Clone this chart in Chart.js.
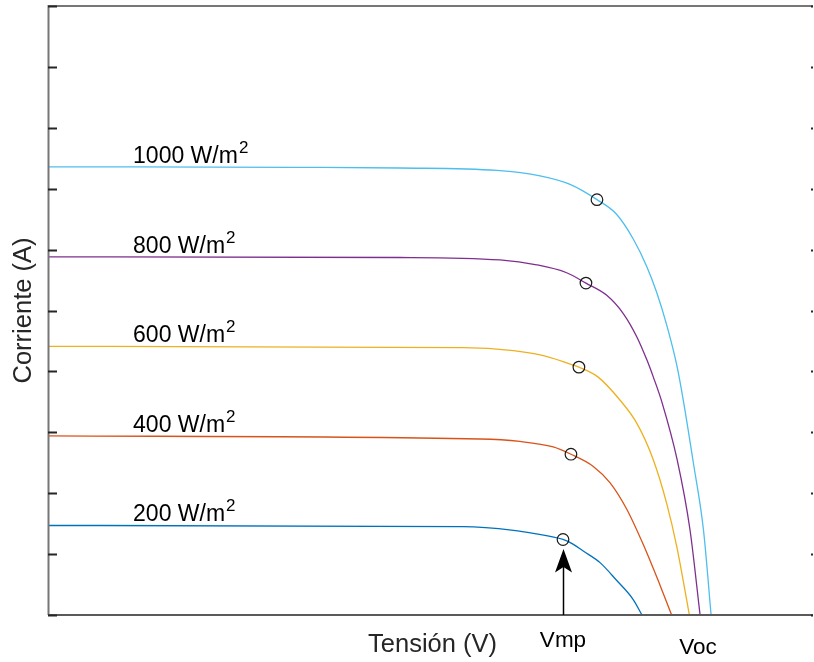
<!DOCTYPE html>
<html>
<head>
<meta charset="utf-8">
<script src="https://cdn.jsdelivr.net/npm/chart.js@4"></script>
<style>
  html, body { margin: 0; padding: 0; background: #ffffff; }
  canvas { display: block; }
</style>
</head>
<body>
<canvas id="iv" width="814" height="662"></canvas>
<script>
// Curvas I-V de un panel fotovoltaico para distintas irradiancias
const irradiance = ['1000', '800', '600', '400', '200'];

const v1000 = [0, 8.0, 11.5, 14.67, 16.08, 17.06, 17.94, 18.58, 19.13, 19.57, 19.89, 20.22, 20.55, 20.76, 21.09, 21.42, 21.67];
const i1000 = [7.36, 7.35, 7.34, 7.30, 7.21, 7.07, 6.82, 6.58, 6.17, 5.72, 5.30, 4.76, 4.10, 3.53, 2.50, 1.40, 0];

const v800 = [0, 11.5, 14.77, 15.97, 16.95, 17.58, 18.26, 18.80, 19.24, 19.57, 19.78, 20.06, 20.56, 20.98, 21.31];
const i800 = [5.88, 5.87, 5.83, 5.75, 5.62, 5.45, 5.25, 4.95, 4.57, 4.19, 3.91, 3.50, 2.55, 1.40, 0];

const v600 = [0, 13.57, 15.21, 16.08, 16.84, 17.35, 17.97, 18.69, 19.24, 19.78, 20.22, 20.55, 20.96];
const i600 = [4.41, 4.39, 4.34, 4.27, 4.16, 4.07, 3.91, 3.53, 3.15, 2.55, 1.83, 1.12, 0];

const v400 = [0, 14.12, 15.42, 16.51, 17.09, 17.82, 18.37, 18.91, 19.45, 20.00, 20.38];
const i400 = [2.94, 2.89, 2.85, 2.76, 2.64, 2.44, 2.17, 1.74, 1.16, 0.49, 0];

const v200 = [0, 13.57, 15.21, 15.86, 16.83, 17.17, 17.49, 18.04, 18.58, 19.13, 19.41];
const i200 = [1.47, 1.45, 1.39, 1.34, 1.24, 1.16, 1.05, 0.86, 0.57, 0.25, 0];

// Puntos de máxima potencia (mismo orden que irradiance)
const mppV = [17.94, 17.58, 17.35, 17.09, 16.83];
const mppI = [6.82, 5.45, 4.07, 2.64, 1.24];

// Rango de los ejes y marcas del eje de corriente
const voltRange = [0, 25];
const currentRange = [0, 10];
const currentTicks = [0, 1, 2, 3, 4, 5, 6, 7, 8, 9, 10];

const curveV = [v1000, v800, v600, v400, v200];
const curveI = [i1000, i800, i600, i400, i200];
const curveColors = ['#4DBEEE', '#7E2F8E', '#EDB120', '#D95319', '#0072BD'];

const toPoints = (vs, is) => vs.map((v, k) => ({ x: v, y: is[k] }));

const datasets = [{
  label: 'MPP',
  data: toPoints(mppV, mppI),
  showLine: false,
  pointStyle: 'circle',
  pointRadius: 5.8,
  pointBorderWidth: 1.2,
  pointBorderColor: '#1a1a1a',
  pointBackgroundColor: 'rgba(0,0,0,0)'
}];
curveV.forEach((vs, k) => {
  datasets.push({
    label: irradiance[k] + ' W/m2',
    data: toPoints(vs, curveI[k]),
    showLine: true,
    borderColor: curveColors[k],
    borderWidth: 1.3,
    pointRadius: 0,
    cubicInterpolationMode: 'monotone'
  });
});

const FONT = '"Liberation Sans", Arial, Helvetica, sans-serif';

const ivDecor = {
  id: 'ivDecor',
  afterDatasetsDraw(chart) {
    const { ctx, chartArea: a, scales: { x, y } } = chart;
    ctx.save();

    // Marco de los ejes
    ctx.strokeStyle = '#767676';
    ctx.lineWidth = 2;
    ctx.beginPath();
    ctx.moveTo(a.left + 0.5, a.bottom);
    ctx.lineTo(a.left + 0.5, a.top);
    ctx.lineTo(a.right, a.top);
    ctx.stroke();
    ctx.strokeStyle = '#5a5a5a';
    ctx.beginPath();
    ctx.moveTo(a.left, a.bottom);
    ctx.lineTo(a.right, a.bottom);
    ctx.stroke();

    // Marcas del eje de corriente (izquierda y derecha)
    ctx.strokeStyle = '#262626';
    ctx.lineWidth = 2;
    currentTicks.forEach(t => {
      const py = Math.round(y.getPixelForValue(t)) + 0.5;
      ctx.beginPath();
      ctx.moveTo(a.left, py);
      ctx.lineTo(a.left + 9, py);
      ctx.moveTo(a.right - 2, py);
      ctx.lineTo(a.right, py);
      ctx.stroke();
    });

    // Etiquetas de irradiancia sobre cada curva
    ctx.fillStyle = '#000000';
    ctx.textBaseline = 'alphabetic';
    ctx.textAlign = 'left';
    curveI.forEach((is, k) => {
      const px = x.getPixelForValue(2.78);
      const py = y.getPixelForValue(is[0]) - 4;
      ctx.font = '23px ' + FONT;
      const main = irradiance[k] + ' W/m';
      ctx.fillText(main, px, py);
      const w = ctx.measureText(main).width;
      ctx.font = '17px ' + FONT;
      ctx.fillText('2', px + w + 1, py - 10);
    });

    // Flecha que señala Vmp
    const ax = Math.round(x.getPixelForValue(mppV[4])) + 0.5;
    const tip = y.getPixelForValue(mppI[4]) + 9.5;
    ctx.strokeStyle = '#000000';
    ctx.lineWidth = 1.5;
    ctx.beginPath();
    ctx.moveTo(ax, a.bottom);
    ctx.lineTo(ax, tip + 16);
    ctx.stroke();
    ctx.fillStyle = '#000000';
    ctx.beginPath();
    ctx.moveTo(ax, tip);
    ctx.lineTo(ax - 8.5, tip + 23.5);
    ctx.lineTo(ax, tip + 18);
    ctx.lineTo(ax + 8.5, tip + 23.5);
    ctx.closePath();
    ctx.fill();

    // Textos Vmp y Voc bajo el eje
    ctx.textAlign = 'center';
    ctx.font = '22.5px ' + FONT;
    ctx.fillText('Vmp', ax - 0.5, a.bottom + 32);
    ctx.fillText('Voc', x.getPixelForValue(21.24), a.bottom + 39);

    // Títulos de los ejes
    ctx.fillStyle = '#262626';
    ctx.font = '25.5px ' + FONT;
    ctx.fillText('Tensión (V)', (a.left + a.right) / 2 + 2, a.bottom + 37);
    ctx.save();
    ctx.translate(31, (a.top + a.bottom) / 2);
    ctx.rotate(-Math.PI / 2);
    ctx.fillText('Corriente (A)', 0, 0);
    ctx.restore();

    ctx.restore();
  }
};

new Chart(document.getElementById('iv'), {
  type: 'scatter',
  data: { datasets },
  options: {
    responsive: false,
    animation: false,
    devicePixelRatio: 1,
    layout: { autoPadding: false, padding: { left: 48, top: 6, right: 1, bottom: 47 } },
    plugins: { legend: { display: false }, tooltip: { enabled: false } },
    scales: {
      x: { type: 'linear', min: voltRange[0], max: voltRange[1], display: false },
      y: { type: 'linear', min: currentRange[0], max: currentRange[1], display: false }
    }
  },
  plugins: [ivDecor]
});
</script>
</body>
</html>
